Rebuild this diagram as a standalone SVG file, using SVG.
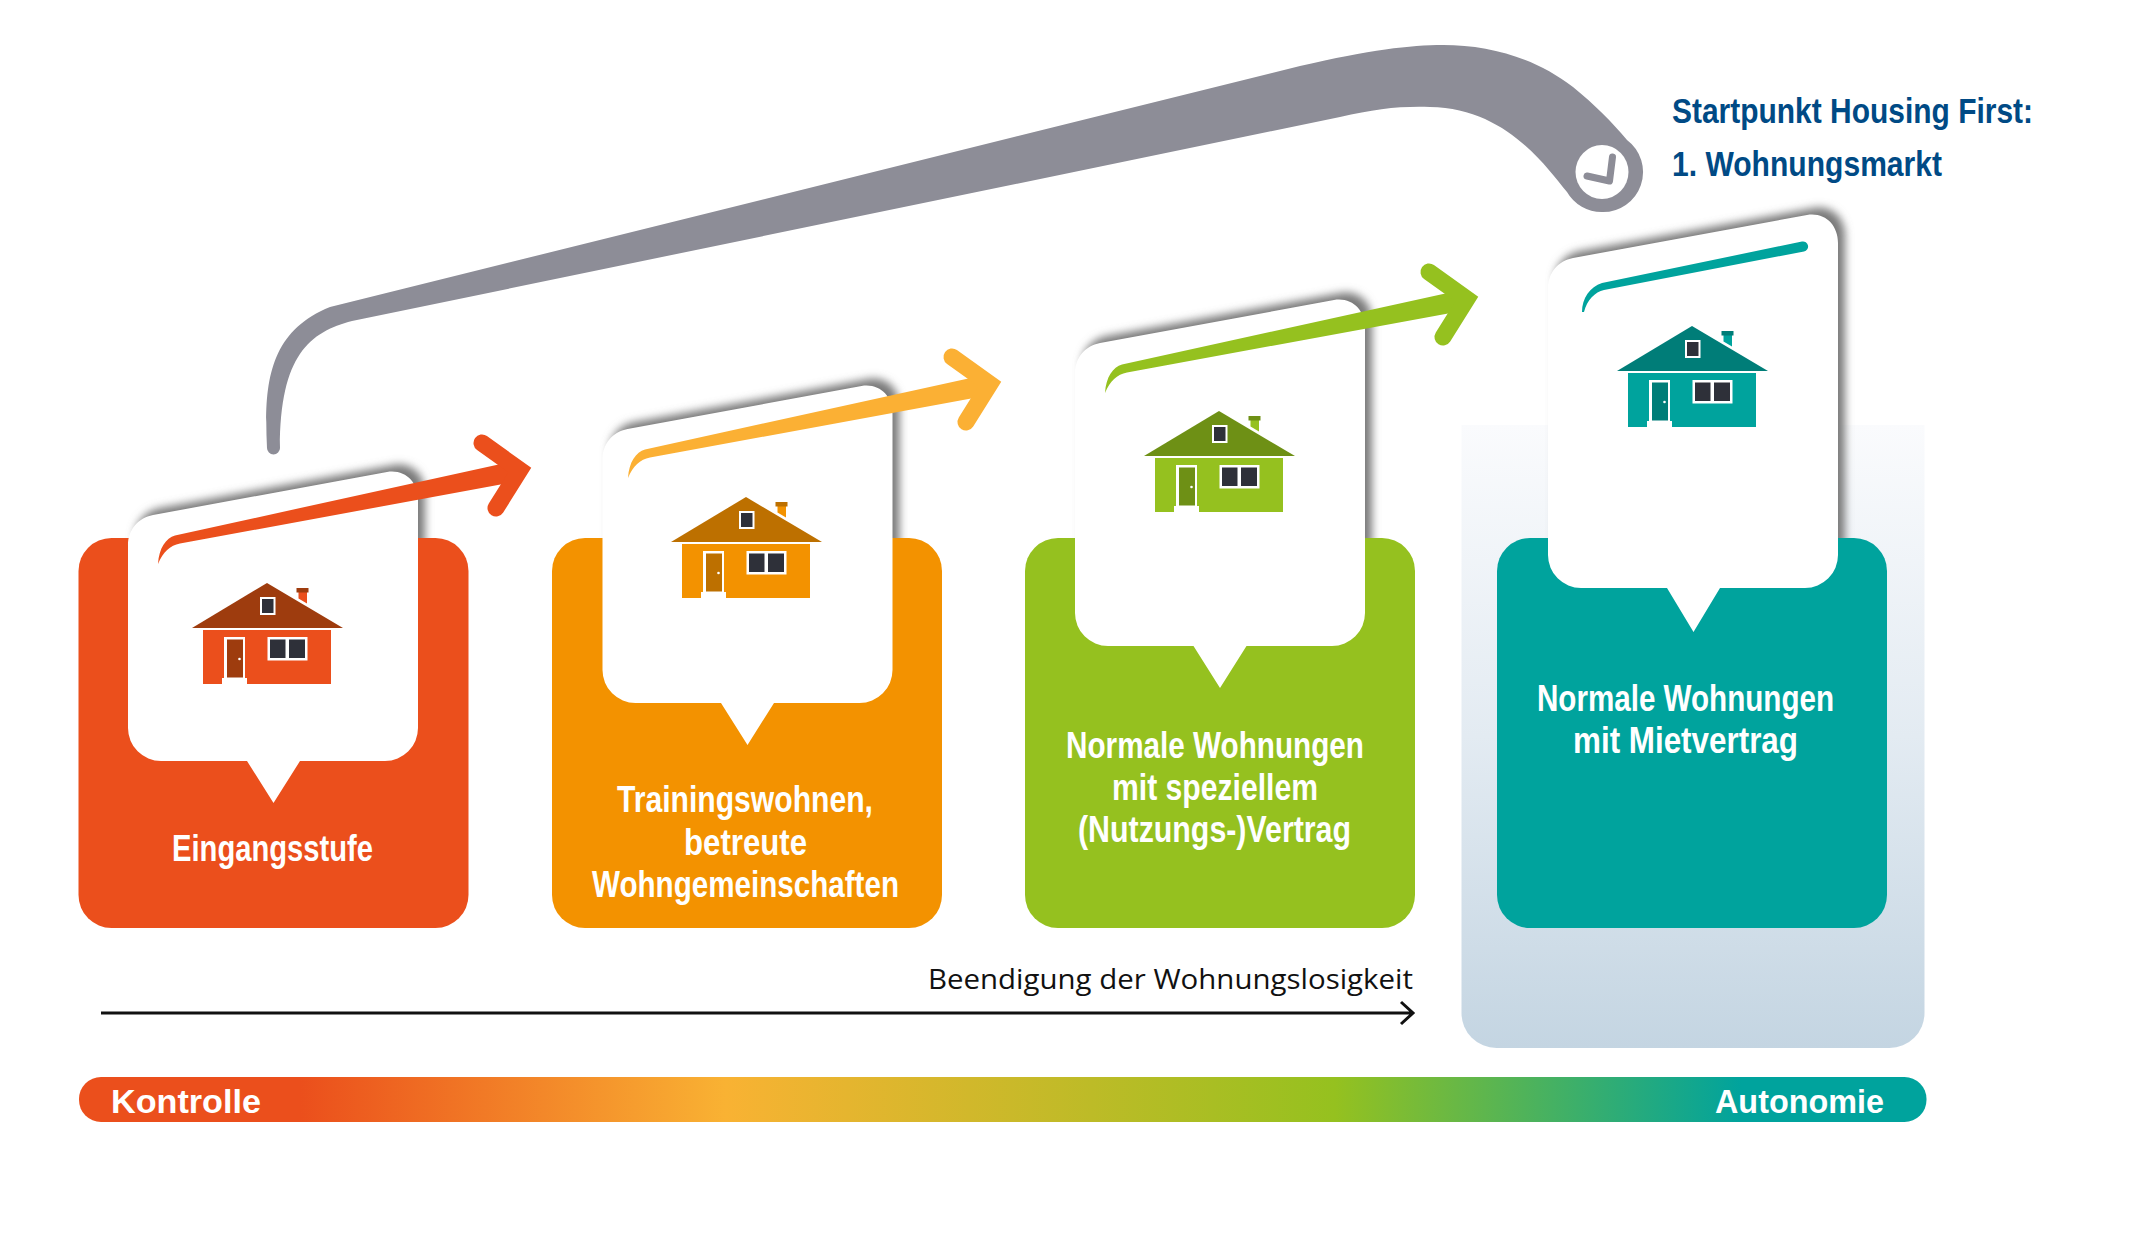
<svg xmlns="http://www.w3.org/2000/svg" xmlns:xlink="http://www.w3.org/1999/xlink" width="2135" height="1238" viewBox="0 0 2135 1238">
<style>
.lab{font-family:"Liberation Sans Narrow","Liberation Sans",sans-serif;font-weight:700;fill:#fff;font-size:36px}
.title{font-family:"Liberation Sans Narrow","Liberation Sans",sans-serif;font-weight:700;fill:#004a85;font-size:35px}
.bar{font-family:"Liberation Sans Narrow","Liberation Sans",sans-serif;font-weight:700;fill:#fff;font-size:33px}
.sub{font-family:"Open Sans","Liberation Sans",sans-serif;fill:#111;font-size:28px}
.bubble{fill:#fff}
.shadow{fill:#7a7a7a;filter:url(#blur)}
</style>
<defs>
<linearGradient id="panelG" x1="0" y1="0" x2="0" y2="1"><stop offset="0" stop-color="#fafbfd"/><stop offset="0.5" stop-color="#e3ebf2"/><stop offset="1" stop-color="#c4d5e2"/></linearGradient>
<linearGradient id="barG" gradientUnits="userSpaceOnUse" x1="79" y1="0" x2="1926" y2="0">
<stop offset="0.12" stop-color="#eb4f1c"/><stop offset="0.35" stop-color="#f9b233"/><stop offset="0.68" stop-color="#95c11f"/><stop offset="0.9" stop-color="#00a39d"/></linearGradient>
<filter id="blur" x="-10%" y="-10%" width="120%" height="120%"><feGaussianBlur stdDeviation="4.500"/></filter>
<g id="house">
<path d="M267,583 L343,628 H192 Z"/>
<path d="M298.500,592 H307 V603.500 L298.500,598.500 Z" fill="currentColor"/>
<rect x="296.500" y="588" width="12" height="4.500"/>
<rect x="203" y="630" width="128" height="54" fill="currentColor"/>
<rect x="224" y="637" width="21" height="41" fill="#fff"/>
<rect x="227" y="639.500" width="16" height="38"/>
<rect x="222" y="678" width="25" height="6" fill="#fff"/>
<circle cx="239.500" cy="659" r="1.300" fill="#fff"/>
<rect x="267.500" y="637" width="40" height="23.500" fill="#fff"/>
<rect x="270" y="639.500" width="15.500" height="18.500" fill="#2e3039"/>
<rect x="289" y="639.500" width="16" height="18.500" fill="#2e3039"/>
<rect x="260" y="597" width="15.500" height="18" fill="#fff"/>
<rect x="262" y="599" width="11.500" height="14" fill="#2e3039"/>
</g>
<g id="arrow">
<path fill="currentColor" d="M158,564 C159,548 166,538 175,535.500 L512,461.500 V482.500 L180,543.500 C170,545.500 163,552 158,564 Z"/>
<path fill="none" stroke="currentColor" stroke-width="17" stroke-linecap="round" stroke-linejoin="miter" d="M482,443 L519.800,470 L496,508"/>
</g>
</defs>
<rect width="2135" height="1238" fill="#fff"/>
<path id="panel" d="M1461.500,425 H1924.500 V1013 A35 35 0 0 1 1889.500,1048 H1496.500 A35 35 0 0 1 1461.500,1013 Z" fill="url(#panelG)"/>

<g id="node-eingangsstufe">
<path class="shadow" transform="translate(7,-7)" d="M128,728 V545 C128,530 138,518 153,515 L387,472 C405,469 418,482 418,500 V728 Z"/>
<rect x="78.500" y="538" width="390" height="390" rx="33" fill="#eb4f1c"/>
<path class="bubble" d="M128,728 V545 C128,530 138,518 153,515 L387,472 C405,469 418,482 418,500 V728 A33 33 0 0 1 385,761 H300 L273.500,803 L247,761 H161 A33 33 0 0 1 128,728 Z"/>
<use href="#house" fill="#9e3c0e" color="#eb4f1c"/>
<text class="lab" x="172" y="861" textLength="201" lengthAdjust="spacingAndGlyphs">Eingangsstufe</text>
</g>

<g id="node-trainingswohnen">
<path class="shadow" transform="translate(7,-7)" d="M602.500,670 V459 C602.500,444 612.500,432 627.500,429 L861.500,386 C879.500,383 892.500,396 892.500,414 V670 Z"/>
<rect x="552" y="538" width="390" height="390" rx="33" fill="#f39200"/>
<path class="bubble" d="M602.500,670 V459 C602.500,444 612.500,432 627.500,429 L861.500,386 C879.500,383 892.500,396 892.500,414 V670 A33 33 0 0 1 859.500,703 H774 L747.500,745 L721,703 H635.500 A33 33 0 0 1 602.500,670 Z"/>
<use href="#house" transform="translate(479,-86)" fill="#bd7000" color="#f39200"/>
<text class="lab" x="617" y="812" textLength="256" lengthAdjust="spacingAndGlyphs">Trainingswohnen,</text>
<text class="lab" x="684" y="855" textLength="123" lengthAdjust="spacingAndGlyphs">betreute</text>
<text class="lab" x="592" y="897" textLength="307" lengthAdjust="spacingAndGlyphs">Wohngemeinschaften</text>
</g>

<g id="node-speziell">
<path class="shadow" transform="translate(7,-7)" d="M1075,613 V373 C1075,358 1085,346 1100,343 L1334,300 C1352,297 1365,310 1365,328 V613 Z"/>
<rect x="1025" y="538" width="390" height="390" rx="33" fill="#95c11f"/>
<path class="bubble" d="M1075,613 V373 C1075,358 1085,346 1100,343 L1334,300 C1352,297 1365,310 1365,328 V613 A33 33 0 0 1 1332,646 H1246.500 L1220,688 L1193.500,646 H1108 A33 33 0 0 1 1075,613 Z"/>
<use href="#house" transform="translate(952,-172)" fill="#6e9015" color="#95c11f"/>
<text class="lab" x="1066" y="758" textLength="298" lengthAdjust="spacingAndGlyphs">Normale Wohnungen</text>
<text class="lab" x="1112" y="800" textLength="206" lengthAdjust="spacingAndGlyphs">mit speziellem</text>
<text class="lab" x="1078" y="842" textLength="273" lengthAdjust="spacingAndGlyphs">(Nutzungs-)Vertrag</text>
</g>

<g id="node-mietvertrag">
<path class="shadow" transform="translate(7,-7)" d="M1548,555 V288 C1548,273 1558,261 1573,258 L1807,215 C1825,212 1838,225 1838,243 V555 Z"/>
<rect x="1497" y="538" width="390" height="390" rx="33" fill="#00a39d"/>
<path class="bubble" d="M1548,555 V288 C1548,273 1558,261 1573,258 L1807,215 C1825,212 1838,225 1838,243 V555 A33 33 0 0 1 1805,588 H1720 L1693.500,632 L1667,588 H1581 A33 33 0 0 1 1548,555 Z"/>
<use href="#house" transform="translate(1425,-257)" fill="#007d78" color="#00a39d"/>
<text class="lab" x="1537" y="711" textLength="297" lengthAdjust="spacingAndGlyphs">Normale Wohnungen</text>
<text class="lab" x="1573" y="753" textLength="225" lengthAdjust="spacingAndGlyphs">mit Mietvertrag</text>
</g>

<g id="connectors">
<use href="#arrow" color="#eb4f1c"/>
<use href="#arrow" transform="translate(470,-86)" color="#fbb034"/>
<use href="#arrow" transform="translate(947,-171)" color="#95c11f"/>
<path fill="#00a39d" d="M1582,312 C1582,298 1590,287 1602,283 L1802,241.500 A5 5 0 0 1 1804,251.500 L1604,290 C1595,292 1587,300 1584,312 Z"/>
<path id="direct" fill="#8d8d97" d="M267,448 C264,385 268,332 330,307 L1300,66 C1370,50 1410,45 1443,45 C1490,45 1535,58 1573,87 C1595,105 1612,122 1627,140 A40 40 0 0 1 1602,212 A40 40 0 0 1 1567,192 C1545,165 1505,108 1430,107 C1400,106 1375,109 1340,117 L352,321 C310,332 280,355 280,448 A6.500 6.500 0 0 1 267,448 Z"/>
<path fill="none" stroke="#111" stroke-width="3" d="M101,1013 H1412 M1401,1002 L1413,1013 L1401,1024"/>
</g>

<g id="clock">
<ellipse cx="1602" cy="172" rx="26.500" ry="27" fill="#fff"/>
<path fill="none" stroke="#8d8d97" stroke-width="7" stroke-linecap="round" stroke-linejoin="round" d="M1612.500,157 L1609.500,181 L1587,176"/>
</g>

<g id="startpunkt">
<text class="title" x="1672" y="123" textLength="361" lengthAdjust="spacingAndGlyphs">Startpunkt Housing First:</text>
<text class="title" x="1672" y="176" textLength="270" lengthAdjust="spacingAndGlyphs">1. Wohnungsmarkt</text>
</g>

<text class="sub" x="928" y="989" textLength="485" lengthAdjust="spacingAndGlyphs">Beendigung der Wohnungslosigkeit</text>

<g id="scale">
<rect x="79" y="1077" width="1847.500" height="45" rx="22" fill="url(#barG)"/>
<text class="bar" x="111" y="1113" textLength="150" lengthAdjust="spacingAndGlyphs">Kontrolle</text>
<text class="bar" x="1715" y="1113" textLength="169" lengthAdjust="spacingAndGlyphs">Autonomie</text>
</g>
</svg>
